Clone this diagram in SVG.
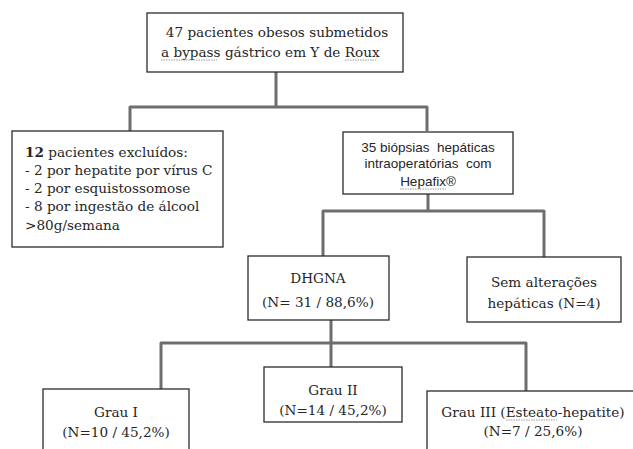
<svg xmlns="http://www.w3.org/2000/svg" width="633" height="449" viewBox="0 0 633 449">
<style>
.box{fill:#fff;stroke:#2b2b2b;stroke-width:1.3}
.con{fill:none;stroke:#6e6e6e;stroke-width:3;stroke-linejoin:round}
.s{font-family:"DejaVu Serif","Liberation Serif",serif;font-size:13.6px;fill:#262626}
.a{font-family:"Liberation Sans",Arial,sans-serif;font-size:13.5px;fill:#262626;white-space:pre}
.u{stroke:#9a9a9a;stroke-width:1;stroke-dasharray:1.5 1}
</style>
<rect width="633" height="449" fill="#fff"/>
<g id="connectors">
<path class="con" d="M276 72V107M130 131V107H427V131"/>
<path class="con" d="M428 194V211M323 256V211H544V257"/>
<path class="con" d="M331 320V367M161 389V343H526V391"/>
</g>
<g id="n1"><rect class="box" x="147" y="13" width="256" height="59"/>
<text class="s" x="277" y="37" text-anchor="middle">47 pacientes obesos submetidos</text>
<text class="s" x="161" y="57">a bypass gástrico em Y de Roux</text>
<line class="u" x1="161" y1="60" x2="217" y2="60"/><line class="u" x1="345" y1="60" x2="376" y2="60"/></g>
<g id="n2"><rect class="box" x="12" y="131" width="211" height="116"/>
<text class="s" x="25" y="157"><tspan font-weight="bold">12</tspan> pacientes excluídos:</text>
<text class="s" x="25" y="175">- 2 por hepatite por vírus C</text>
<text class="s" x="25" y="193">- 2 por esquistossomose</text>
<text class="s" x="25" y="211">- 8 por ingestão de álcool</text>
<text class="s" x="25" y="230">&gt;80g/semana</text></g>
<g id="n3"><rect class="box" x="343" y="132" width="170" height="62"/>
<text class="a" x="428" y="152" text-anchor="middle" xml:space="preserve">35 biópsias  hepáticas</text>
<text class="a" x="428" y="168" text-anchor="middle" xml:space="preserve">intraoperatórias  com</text>
<text class="a" x="428" y="186" text-anchor="middle">Hepafix®</text>
<line class="u" x1="400" y1="189" x2="446" y2="189"/></g>
<g id="n4"><rect class="box" x="248" y="256" width="141" height="64"/>
<text class="s" x="318" y="283" text-anchor="middle">DHGNA</text>
<text class="s" x="318" y="307" text-anchor="middle">(N= 31 / 88,6%)</text></g>
<g id="n5"><rect class="box" x="467" y="257" width="154" height="65"/>
<text class="s" x="544" y="287" text-anchor="middle">Sem alterações</text>
<text class="s" x="544" y="308" text-anchor="middle">hepáticas (N=4)</text></g>
<g id="n6"><rect class="box" x="43" y="389" width="146" height="70"/>
<text class="s" x="116" y="417" text-anchor="middle">Grau I</text>
<text class="s" x="116" y="437" text-anchor="middle">(N=10 / 45,2%)</text></g>
<g id="n7"><rect class="box" x="264" y="367" width="138" height="55"/>
<text class="s" x="333" y="395" text-anchor="middle">Grau II</text>
<text class="s" x="333" y="415" text-anchor="middle">(N=14 / 45,2%)</text></g>
<g id="n8"><rect class="box" x="427" y="391" width="215" height="70"/>
<text class="s" x="533" y="417" text-anchor="middle">Grau III (Esteato-hepatite)</text>
<text class="s" x="533" y="436" text-anchor="middle">(N=7 / 25,6%)</text>
<line class="u" x1="506" y1="420" x2="557" y2="420"/></g>
</svg>
